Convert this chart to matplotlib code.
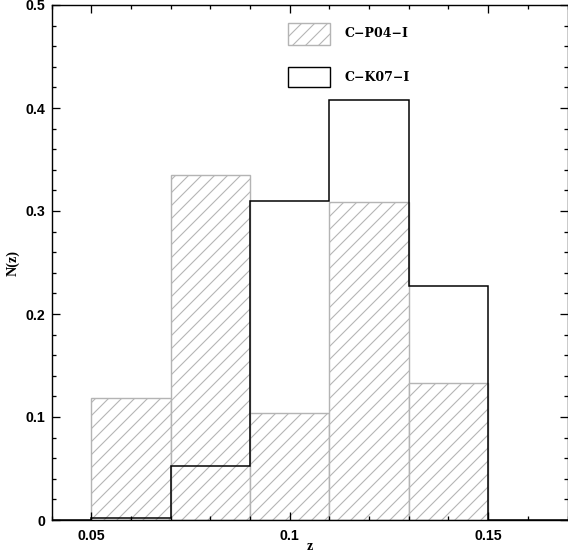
import matplotlib.pyplot as plt
from matplotlib.patches import Rectangle
from matplotlib.ticker import MultipleLocator

# redshift bins and histogram values
edges = [0.05, 0.07, 0.09, 0.11, 0.13, 0.15]
p04_vals = [0.118, 0.335, 0.104, 0.309, 0.133]
k07_edges = [0.03, 0.05, 0.07, 0.09, 0.11, 0.13, 0.15, 0.17]
k07_vals = [0.0, 0.002, 0.052, 0.310, 0.408, 0.227, 0.0]
labels = ['C\u2212P04\u2212I', 'C\u2212K07\u2212I']

dpi = 78
plt.rcParams['hatch.linewidth'] = 1.0
fig = plt.figure(figsize=(568 / dpi, 552 / dpi), dpi=dpi)
ax = fig.add_axes([51.5 / 568, 32 / 552, 516 / 568, 515 / 552])

gray = '#b4b4b4'
widths = [edges[i + 1] - edges[i] for i in range(len(p04_vals))]
ax.bar(edges[:-1], p04_vals, width=widths, align='edge', facecolor='white',
       edgecolor=gray, hatch='//', linewidth=1.3, zorder=1)
ax.stairs(k07_vals, k07_edges, color='black', linewidth=1.4, zorder=2)

ax.set_xlim(0.04, 0.17)
ax.set_ylim(0, 0.5)
ax.xaxis.set_major_locator(MultipleLocator(0.05))
ax.xaxis.set_minor_locator(MultipleLocator(0.01))
ax.yaxis.set_major_locator(MultipleLocator(0.1))
ax.yaxis.set_minor_locator(MultipleLocator(0.02))
ax.tick_params(which='both', direction='in', top=True, right=True, width=1.2)
ax.tick_params(which='major', length=7.5)
ax.tick_params(which='minor', length=3.7)
ax.tick_params(axis='x', pad=8)
ax.tick_params(axis='y', pad=6)
ax.set_xticks([0.05, 0.1, 0.15])
ax.set_xticklabels(['0.05', '0.1', '0.15'])
ax.set_yticks([0, 0.1, 0.2, 0.3, 0.4, 0.5])
ax.set_yticklabels(['0', '0.1', '0.2', '0.3', '0.4', '0.5'])
for lab in ax.get_xticklabels() + ax.get_yticklabels():
    lab.set_fontfamily('Liberation Sans')
    lab.set_fontweight('bold')
    lab.set_fontsize(13)
for s in ax.spines.values():
    s.set_linewidth(1.3)

ax.set_xlabel('z', family='Liberation Serif', weight='bold', fontsize=13, labelpad=-2)
ax.set_ylabel('N(z)', family='Liberation Serif', weight='bold', fontsize=13, labelpad=5)

# legend drawn by hand
ax.add_patch(Rectangle((0.458, 0.922), 0.082, 0.043, transform=ax.transAxes,
                       facecolor='white', edgecolor=gray, hatch='//', linewidth=1.3))
ax.add_patch(Rectangle((0.458, 0.841), 0.082, 0.039, transform=ax.transAxes,
                       facecolor='white', edgecolor='black', linewidth=1.3))
ax.text(0.567, 0.944, labels[0], transform=ax.transAxes, va='center',
        family='DejaVu Serif', weight='bold', fontsize=11.5)
ax.text(0.567, 0.860, labels[1], transform=ax.transAxes, va='center',
        family='DejaVu Serif', weight='bold', fontsize=11.5)

fig.savefig('out.png', dpi=dpi)
